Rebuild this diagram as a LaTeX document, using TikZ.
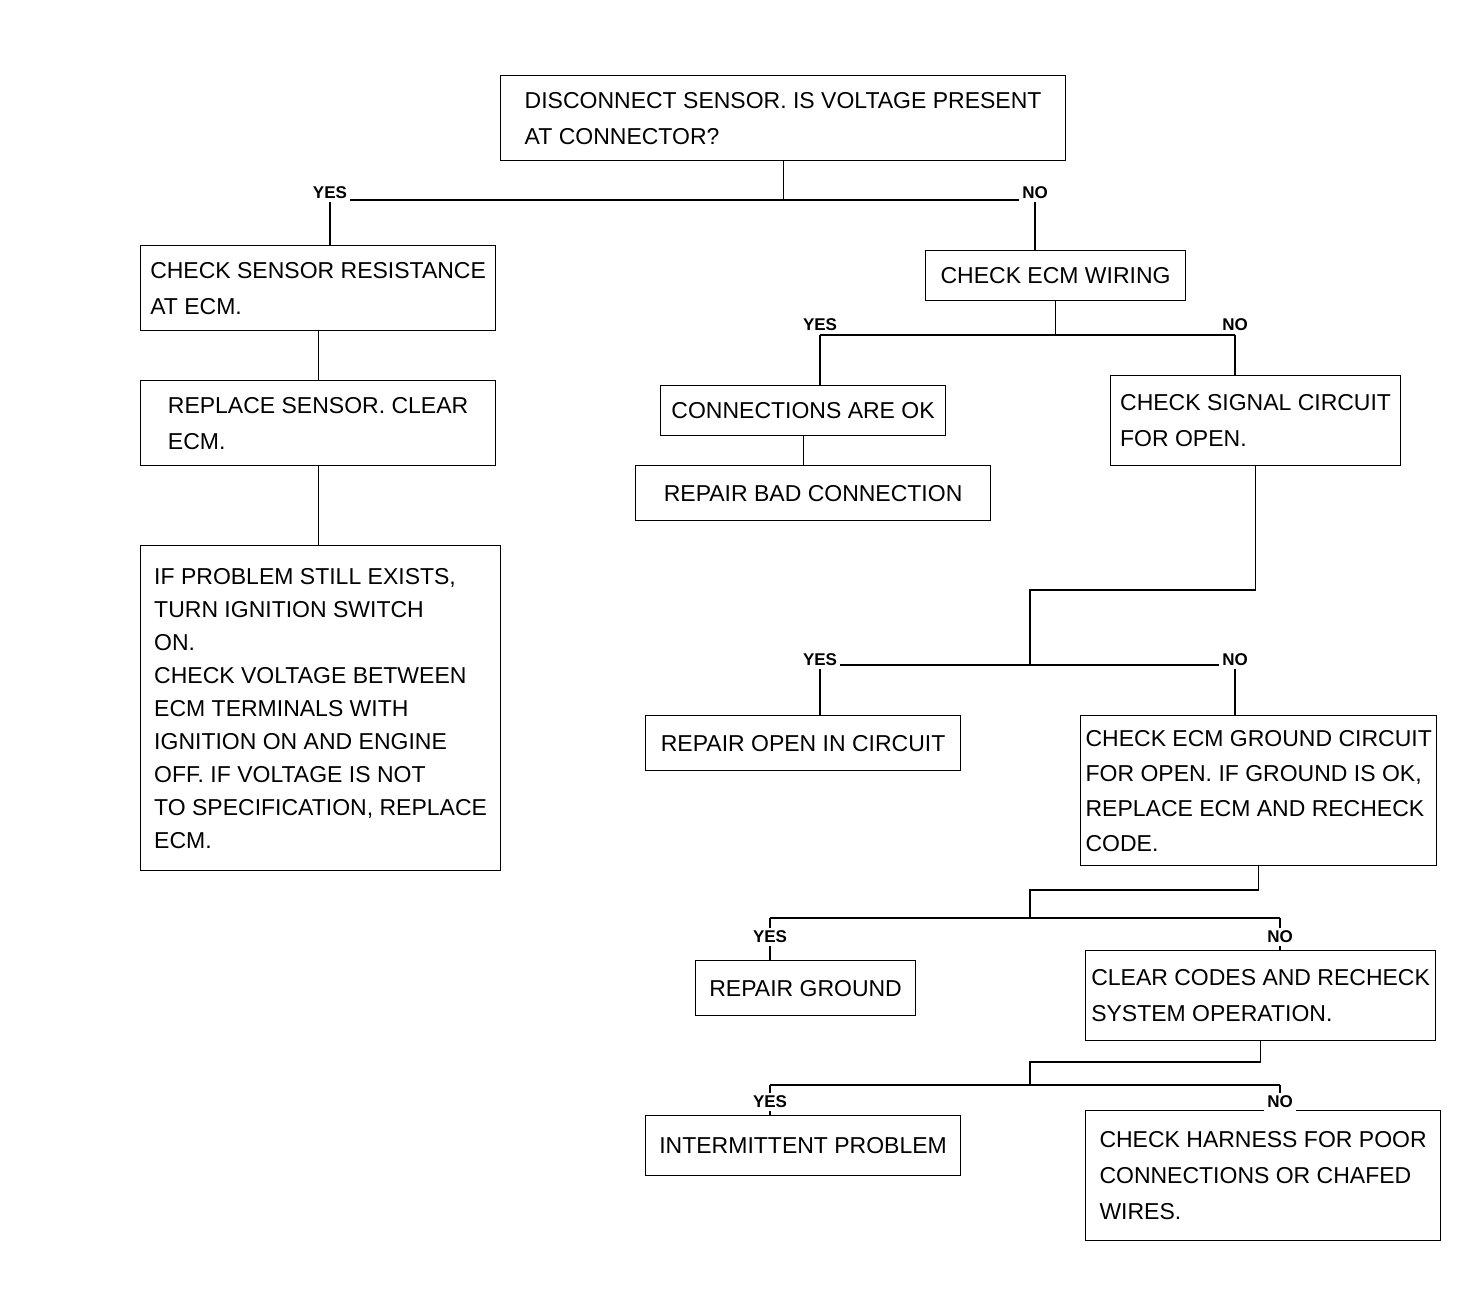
\documentclass[tikz,border=0pt]{standalone}
\usepackage{fontspec}
\setmainfont{Liberation Sans}
\begin{document}
\begin{tikzpicture}[x=1pt,y=-1pt,
  box/.style={draw=black, line width=1.2pt, anchor=north west, inner xsep=5pt, inner ysep=4pt, align=left, font=\fontsize{23}{36}\selectfont},
  lab/.style={fill=white, inner sep=3pt, font=\fontsize{17}{19}\selectfont\bfseries},
  conn/.style={line width=1.2pt}]
\useasboundingbox (0,0) rectangle (1478,1315);
% boxes
\node[box, minimum width=565pt, minimum height=85pt] (T) at (500,75)
  {DISCONNECT SENSOR. IS VOLTAGE PRESENT\\AT CONNECTOR?};
\node[box, minimum width=355pt, minimum height=85pt] (B1) at (140,245)
  {CHECK SENSOR RESISTANCE\\AT ECM.};
\node[box, minimum width=355pt, minimum height=85pt] (B2) at (140,380)
  {REPLACE SENSOR. CLEAR\\ECM.};
\node[box, minimum width=360pt, minimum height=325pt, font=\fontsize{23}{33}\selectfont] (B3) at (140,545)
  {IF PROBLEM STILL EXISTS,\\TURN IGNITION SWITCH\\ON.\\CHECK VOLTAGE BETWEEN\\ECM TERMINALS WITH\\IGNITION ON AND ENGINE\\OFF. IF VOLTAGE IS NOT\\TO SPECIFICATION, REPLACE\\ECM.};
\node[box, minimum width=260pt, minimum height=50pt] (Y) at (925,250)
  {CHECK ECM WIRING};
\node[box, minimum width=285pt, minimum height=50pt] (A) at (660,385)
  {CONNECTIONS ARE OK};
\node[box, minimum width=355pt, minimum height=55pt] (Bb) at (635,465)
  {REPAIR BAD CONNECTION};
\node[box, minimum width=290pt, minimum height=90pt] (C) at (1110,375)
  {CHECK SIGNAL CIRCUIT\\FOR OPEN.};
\node[box, minimum width=315pt, minimum height=55pt] (D) at (645,715)
  {REPAIR OPEN IN CIRCUIT};
\node[box, minimum width=355pt, minimum height=150pt, font=\fontsize{23}{35}\selectfont] (E) at (1080,715)
  {CHECK ECM GROUND CIRCUIT\\FOR OPEN. IF GROUND IS OK,\\REPLACE ECM AND RECHECK\\CODE.};
\node[box, minimum width=220pt, minimum height=55pt] (F) at (695,960)
  {REPAIR GROUND};
\node[box, minimum width=350pt, minimum height=90pt] (G) at (1085,950)
  {CLEAR CODES AND RECHECK\\SYSTEM OPERATION.};
\node[box, minimum width=315pt, minimum height=60pt] (H) at (645,1115)
  {INTERMITTENT PROBLEM};
\node[box, minimum width=355pt, minimum height=130pt] (I) at (1085,1110)
  {CHECK HARNESS FOR POOR\\CONNECTIONS OR CHAFED\\WIRES.};
% junction coordinates
\coordinate (j1) at (330,200);
\coordinate (j2) at (1035,200);
\coordinate (j3) at (820,335);
\coordinate (j4) at (1235,335);
\coordinate (k1) at (1030,590);
\coordinate (j5) at (820,665);
\coordinate (j6) at (1235,665);
\coordinate (k2) at (1030,890);
\coordinate (j7) at (770,918);
\coordinate (j8) at (1280,918);
\coordinate (k3) at (1030,1062);
\coordinate (j9) at (770,1085);
\coordinate (j10) at (1280,1085);
% connectors
\draw[conn] (T.south) -- (T.south |- j1);
\draw[conn] (j1) -- (j2);
\draw[conn] (j1) -- (j1 |- B1.north);
\draw[conn] (j2) -- (j2 |- Y.north);
\draw[conn] (B1.south) -- (B1.south |- B2.north);
\draw[conn] (B2.south) -- (B2.south |- B3.north);
\draw[conn] (Y.south) -- (Y.south |- j3);
\draw[conn] (j3) -- (j4);
\draw[conn] (j3) -- (j3 |- A.north);
\draw[conn] (A.south) -- (A.south |- Bb.north);
\draw[conn] (j4) -- (j4 |- C.north);
\draw[conn] (C.south) |- (k1) -- (k1 |- j5);
\draw[conn] (j5) -- (j6);
\draw[conn] (j5) -- (j5 |- D.north);
\draw[conn] (j6) -- (j6 |- E.north);
\draw[conn] (E.south) |- (k2) -- (k2 |- j7);
\draw[conn] (j7) -- (j8);
\draw[conn] (j7) -- (j7 |- F.north);
\draw[conn] (j8) -- (j8 |- G.north);
\draw[conn] (G.south) |- (k3) -- (k3 |- j9);
\draw[conn] (j9) -- (j10);
\draw[conn] (j9) -- (j9 |- H.north);
\draw[conn] (j10) -- (j10 |- I.north);
% branch labels
\node[lab] (L1) at (330,193) {YES};
\node[lab] (L2) at (1035,193) {NO};
\node[lab] (L3) at (820,325) {YES};
\node[lab] (L4) at (1235,325) {NO};
\node[lab] (L5) at (820,660) {YES};
\node[lab] (L6) at (1235,660) {NO};
\node[lab] (L7) at (770,937) {YES};
\node[lab] (L8) at (1280,937) {NO};
\node[lab] (L9) at (770,1102) {YES};
\node[lab] (L10) at (1280,1102) {NO};
\end{tikzpicture}
\end{document}
